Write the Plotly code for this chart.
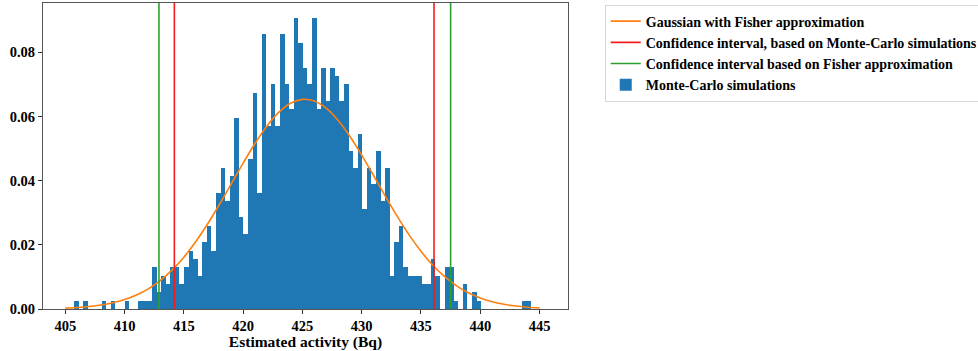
import numpy as np
import plotly.graph_objects as go

# ---- data ----
n_samples = 1000
bin_lo = 405.76
bin_hi = 444.31
counts = [1, 0, 1, 0, 0, 0, 1, 0, 1, 0,
          0, 1, 0, 0, 1, 1, 1, 5, 2, 4,
          3, 5, 5, 3, 5, 7, 6, 4, 8, 10,
          7, 14, 17, 13, 16, 23, 11, 9, 18, 26,
          14, 33, 22, 27, 22, 33, 27, 24, 35, 32,
          29, 27, 35, 24, 29, 25, 29, 28, 25, 27,
          19, 17, 21, 12, 17, 15, 19, 13, 17, 4,
          8, 10, 5, 4, 4, 4, 3, 3, 6, 4,
          0, 5, 5, 1, 0, 3, 0, 2, 1, 0,
          0, 0, 0, 0, 0, 0, 0, 0, 1, 1]

gauss_x = list(range(405, 446))
gauss_y = [0.000272, 0.000462, 0.000763, 0.001228, 0.001923, 0.002933, 0.004354,
           0.006292, 0.008851, 0.01212, 0.01616, 0.02097, 0.02650, 0.03259,
           0.03902, 0.04548, 0.05160, 0.05699, 0.06128, 0.06415, 0.06536,
           0.06484, 0.06261, 0.05886, 0.05387, 0.04799, 0.04162, 0.03514,
           0.02888, 0.02310, 0.01799, 0.01364, 0.01007, 0.007235, 0.005061,
           0.003447, 0.002285, 0.001474, 0.000926, 0.000566, 0.000337]

ci_mc = [414.2, 436.1]
ci_fisher = [412.9, 437.5]

x_range = [403.12, 447.4]
y_range = [0, 0.0954]
x_ticks = [405, 410, 415, 420, 425, 430, 435, 440, 445]
y_ticks = [0.00, 0.02, 0.04, 0.06, 0.08]

# ---- derived ----
nb = len(counts)
edges = np.linspace(bin_lo, bin_hi, nb + 1)
width = edges[1] - edges[0]
centers = (edges[:-1] + edges[1:]) / 2
density = np.array(counts) / (n_samples * width)


def vlines(xs):
    vx, vy = [], []
    for v in xs:
        vx += [v, v, None]
        vy += [y_range[0], y_range[1], None]
    return vx, vy


font_family = "Liberation Serif"

fig = go.Figure()

fig.add_trace(go.Bar(
    x=centers, y=density, width=width,
    marker=dict(color="#1f77b4", line=dict(width=0)),
    name="Monte-Carlo simulations", legendrank=4,
))

fig.add_trace(go.Scatter(
    x=gauss_x, y=gauss_y, mode="lines", line_shape="spline",
    line=dict(color="#ff7f0e", width=1.6),
    name="Gaussian with Fisher approximation", legendrank=1,
))

rx, ry = vlines(ci_mc)
fig.add_trace(go.Scatter(
    x=rx, y=ry, mode="lines", line=dict(color="#f21d1d", width=1.6),
    name="Confidence interval, based on Monte-Carlo simulations", legendrank=2,
))

gx, gy = vlines(ci_fisher)
fig.add_trace(go.Scatter(
    x=gx, y=gy, mode="lines", line=dict(color="#2ca02c", width=1.6),
    name="Confidence interval based on Fisher approximation", legendrank=3,
))

axis_common = dict(
    showline=True, mirror=True, linecolor="#555555", linewidth=1,
    ticks="outside", ticklen=4, tickcolor="#333333", tickwidth=1,
    showgrid=False, zeroline=False,
    tickfont=dict(family=font_family, size=14.5, color="black", weight="bold"),
)

fig.update_layout(
    width=978, height=351,
    margin=dict(l=43, r=410, t=3, b=42, autoexpand=False),
    paper_bgcolor="white", plot_bgcolor="white",
    bargap=0,
    showlegend=True,
    font=dict(family=font_family, size=14, color="black", weight="bold"),
    legend=dict(
        x=1.07, y=0.995, xanchor="left", yanchor="top",
        bordercolor="#d6d6d6", borderwidth=1, bgcolor="white",
        font=dict(family=font_family, size=14, color="black", weight="bold"),
        tracegroupgap=0, itemwidth=30,
    ),
    xaxis=dict(
        range=x_range, tickvals=x_ticks, ticktext=[str(t) for t in x_ticks],
        title=dict(text="Estimated activity (Bq)", standoff=2,
                   font=dict(family=font_family, size=15.5, color="black", weight="bold")),
        **axis_common,
    ),
    yaxis=dict(
        range=y_range, tickvals=y_ticks, ticktext=[f"{t:.2f}" for t in y_ticks],
        **axis_common,
    ),
)

fig.write_html("out.html", config={"displayModeBar": False},
               post_script="document.body.style.margin='0';document.body.style.overflow='hidden';")
